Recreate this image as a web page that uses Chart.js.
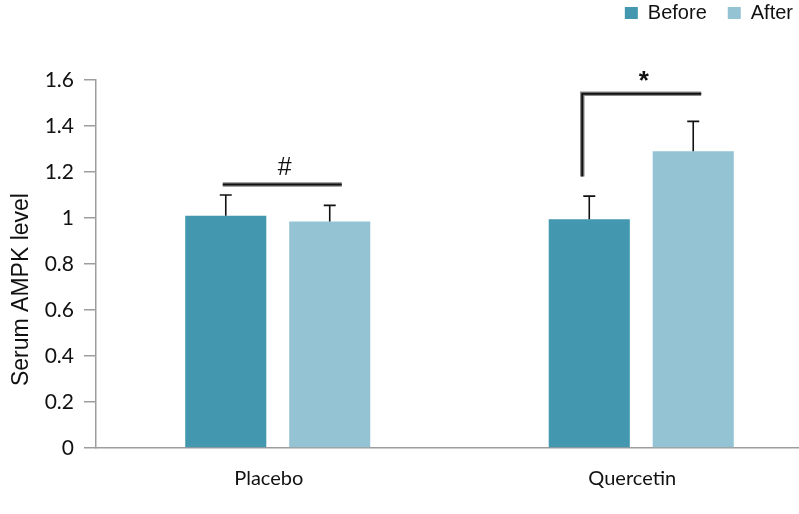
<!DOCTYPE html>
<html>
<head>
<meta charset="utf-8">
<script src="https://cdn.jsdelivr.net/npm/chart.js@4.4.0/dist/chart.umd.min.js"></script>
<style>
  html, body { margin: 0; padding: 0; background: #fff; overflow: hidden; }
  #wrap { width: 799px; height: 514px; position: relative; overflow: hidden; }
</style>
</head>
<body>
<div id="wrap"><canvas id="ampkChart" width="823" height="514"></canvas></div>
<script>
// chart data
const groups = ['Placebo', 'Quercetin'];
const seriesNames = ['Before', 'After'];
const beforeValues = [1.01, 0.995];
const afterValues = [0.985, 1.29];
const beforeErrors = [0.09, 0.10];
const afterErrors = [0.07, 0.13];
const yTickLabels = ['0', '0.2', '0.4', '0.6', '0.8', '1', '1.2', '1.4', '1.6'];

const beforeColor = '#4397af';
const afterColor = '#94c3d4';
const axisColor = '#9d9d9d';

// error bars drawn from the bar elements and the y scale
const errorBars = {
    id: 'errorBars',
    afterDatasetsDraw(chart) {
        const ctx = chart.ctx;
        const yScale = chart.scales.y;
        chart.data.datasets.forEach((ds, i) => {
            const meta = chart.getDatasetMeta(i);
            meta.data.forEach((bar, j) => {
                const top = yScale.getPixelForValue(ds.data[j] + ds.errors[j]);
                ctx.save();
                ctx.strokeStyle = '#111';
                ctx.lineWidth = 1.6;
                ctx.beginPath();
                ctx.moveTo(bar.x, bar.y);
                ctx.lineTo(bar.x, top);
                ctx.moveTo(bar.x - 6, top);
                ctx.lineTo(bar.x + 6, top);
                ctx.stroke();
                ctx.restore();
            });
        });
    }
};

// significance brackets (# placebo, * quercetin)
const brackets = {
    id: 'brackets',
    afterDraw(chart) {
        const ctx = chart.ctx;
        const y = chart.scales.y;
        const b0 = chart.getDatasetMeta(0).data;
        const b1 = chart.getDatasetMeta(1).data;

        function heavyLine(points) {
            [['#8a8a8a', 4.5], ['#111', 2]].forEach(([c, w]) => {
                ctx.save();
                ctx.strokeStyle = c;
                ctx.lineWidth = w;
                ctx.beginPath();
                points.forEach((p, k) => k ? ctx.lineTo(p[0], p[1]) : ctx.moveTo(p[0], p[1]));
                ctx.stroke();
                ctx.restore();
            });
        }

        // placebo bracket
        const py = y.getPixelForValue(1.146);
        heavyLine([[b0[0].x - 3, py], [b1[0].x + 12, py]]);

        // quercetin bracket
        const qx = b0[1].x - 7;
        const qTop = y.getPixelForValue(1.54);
        heavyLine([[qx, y.getPixelForValue(1.18)], [qx, qTop], [b1[1].x + 8, qTop]]);

        ctx.save();
        ctx.fillStyle = '#111';
        ctx.textAlign = 'center';
        ctx.textBaseline = 'middle';
        ctx.font = '25px "Liberation Sans", Arial, sans-serif';
        ctx.fillText('#', (b0[0].x + b1[0].x) / 2 + 7, py - 16);
        ctx.font = 'bold 26px "Liberation Sans", Arial, sans-serif';
        ctx.fillText('*', (qx + b1[1].x + 8) / 2 + 2, qTop - 12);
        ctx.restore();
    }
};

// legend sits in the top right corner, chart area starts at y=80
const legendPlace = {
    id: 'legendPlace',
    beforeUpdate(chart) {
        const lg = chart.legend;
        if (lg && !lg._patched) {
            const fit = lg.fit.bind(lg);
            lg.fit = function () { fit(); this.height = 80; };
            lg._patched = true;
        }
    },
    afterLayout(chart) {
        const lg = chart.legend;
        lg.top = -18;
        lg.right = 814;
        lg.width = lg.right - lg.left;
    }
};

const ctx = document.getElementById('ampkChart').getContext('2d');
new Chart(ctx, {
    type: 'bar',
    data: {
        labels: groups,
        datasets: [
            { label: seriesNames[0], data: beforeValues, errors: beforeErrors, backgroundColor: beforeColor },
            { label: seriesNames[1], data: afterValues, errors: afterErrors, backgroundColor: afterColor }
        ]
    },
    options: {
        responsive: false,
        animation: false,
        devicePixelRatio: 1,
        layout: { padding: { top: 0, left: 0, right: 0, bottom: 4 } },
        datasets: {
            bar: { categoryPercentage: 0.572, barPercentage: 0.78 }
        },
        scales: {
            x: {
                grid: { display: false, drawTicks: false },
                border: { display: true, color: axisColor, width: 1.5 },
                ticks: { color: '#111', padding: 19, labelOffset: -9, font: { family: 'Lato', size: 20 } }
            },
            y: {
                min: 0,
                max: 1.6,
                afterFit(scale) { scale.width = 96; },
                grid: { display: true, drawOnChartArea: false, drawTicks: true, tickLength: 12, color: axisColor, lineWidth: 1.5 },
                border: { display: true, color: axisColor, width: 1.5 },
                ticks: {
                    stepSize: 0.2,
                    padding: 10,
                    color: '#111',
                    font: { family: 'Lato', size: 21 },
                    callback: (value, index) => yTickLabels[index]
                },
                title: {
                    display: true,
                    text: 'Serum AMPK level        ',
                    color: '#111',
                    padding: { top: 8, bottom: 0 },
                    font: { family: '"Liberation Sans", Arial, sans-serif', size: 23 }
                }
            }
        },
        plugins: {
            legend: {
                position: 'top',
                align: 'end',
                labels: {
                    boxWidth: 13,
                    boxHeight: 12,
                    padding: 21,
                    color: '#111',
                    font: { family: '"Liberation Sans", Arial, sans-serif', size: 20 }
                }
            },
            tooltip: { enabled: false }
        }
    },
    plugins: [errorBars, brackets, legendPlace]
});
</script>
</body>
</html>
